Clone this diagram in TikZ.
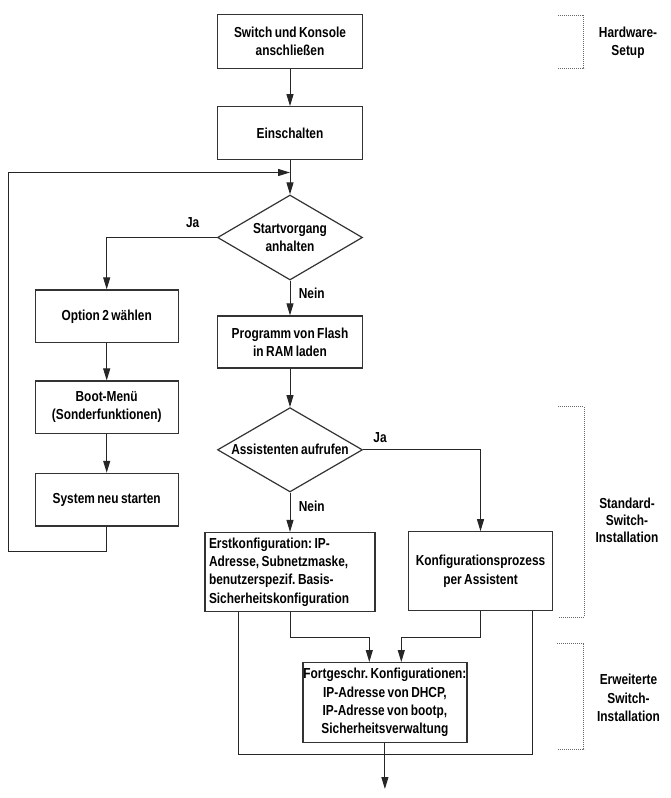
\documentclass[tikz,border=0pt]{standalone}
\usepackage{fontspec}
\setmainfont{Liberation Sans}[FakeStretch=0.82,WordSpace=0.75]
\usetikzlibrary{arrows.meta,shapes.geometric}
\newcommand{\txtfont}{\fontsize{14.5}{18.3}\selectfont\bfseries\frenchspacing}
\begin{document}
\begin{tikzpicture}[x=1pt,y=-1pt,
  box/.style={draw=black!80, line width=1.2pt, rectangle, inner sep=0pt, align=center, font=\txtfont},
  dia/.style={draw=black!80, line width=1.2pt, diamond, aspect=1.7, inner sep=0pt, minimum width=145pt, minimum height=85pt, align=center, font=\txtfont},
  flow/.style={draw=black!85, line width=1pt, -{Triangle[length=12pt,width=7pt]}},
  conn/.style={draw=black!85, line width=1pt},
  lbl/.style={font=\txtfont, inner sep=0pt, align=center},
  brk/.style={draw=black!60, line width=1pt, densely dotted},
]
\fill[white] (0,0) rectangle (671,798);
\useasboundingbox (0,0) rectangle (671,798);

\node[box, minimum width=145pt, minimum height=54pt] (b1) at (290,41.3) {Switch und Konsole\\anschließen};
\node[box, minimum width=145pt, minimum height=52.6pt] (b2) at (290,133) {Einschalten};
\node[dia] (d1) at (290,237.5) {Startvorgang\\anhalten};
\node[box, minimum width=143pt, minimum height=52.7pt] (b3) at (106.7,316.3) {Option 2 wählen};
\node[box, minimum width=145pt, minimum height=52pt] (b4) at (290,342) {Programm von Flash\\in RAM laden};
\node[dia, minimum height=84.3pt] (d2) at (290,449.8) {Assistenten aufrufen};
\node[box, minimum width=143pt, minimum height=52.3pt] (b5) at (106.7,407.2) {Boot-Menü\\(Sonderfunktionen)};
\node[box, minimum width=143pt, minimum height=52.7pt] (b6) at (106.7,499.7) {System neu starten};
\node[box, minimum width=170pt, minimum height=79pt, align=flush left, text width=162pt] (b7) at (290,572) {Erstkonfiguration: IP-\\Adresse, Subnetzmaske,\\benutzerspezif. Basis-\\Sicherheitskonfiguration};
\node[box, minimum width=144pt, minimum height=79pt] (b8) at (480.5,571.3) {Konfigurationsprozess\\per Assistent};
\node[box, minimum width=164pt, minimum height=80pt] (b9) at (384.9,702.6) {Fortgeschr. Konfigurationen:\\IP-Adresse von DHCP,\\IP-Adresse von bootp,\\Sicherheitsverwaltung};

% labels
\node[lbl] (ja1) at (192.7,223) {Ja};
\node[lbl] (nein1) at (311.7,293) {Nein};
\node[lbl] (ja2) at (380,437.7) {Ja};
\node[lbl] (nein2) at (311.7,506) {Nein};

% coordinates
\coordinate (loopL) at (8.3,551.7);
\coordinate (loopT) at (8.3,172.5);
\coordinate (join) at (290,172.5);
\coordinate (a1) at (369.3,637.3);
\coordinate (a2) at (401.3,637.3);
\coordinate (o1) at (238.3,754.5);
\coordinate (o2) at (532.7,754.5);
\coordinate (endp) at (384.9,789);

% connectors
\draw[flow] (b1) -- (b2);
\draw[flow] (b2) -- (d1);
\draw[flow] (b6.south) |- (loopL) -- (loopT) -- (join);
\draw[flow] (d1.west) -| (b3.north);
\draw[flow] (d1.south) -- (b4.north);
\draw[flow] (b3) -- (b5);
\draw[flow] (b5) -- (b6);
\draw[flow] (b4) -- (d2);
\draw[flow] (d2.east) -| (b8.north);
\draw[flow] (d2.south) -- (b7.north);
\draw[flow] (b7.south) |- (a1) -- (a1 |- b9.north);
\draw[flow] (b8.south) |- (a2) -- (a2 |- b9.north);
\draw[conn] (b7.south -| o1) -- (o1) -- (o2) -- (b8.south -| o2);
\draw[flow] (b9.south) -- (endp);

% brackets
\draw[brk] (558,15) -- (583.7,15) -- (583.7,68.3) -- (558,68.3);
\draw[brk] (558.3,406.7) -- (584,406.7) -- (584,617) -- (558.3,617);
\draw[brk] (557,643) -- (583.7,643) -- (583.7,749.3) -- (557,749.3);
\node[lbl] (hw) at (628,42.5) {Hardware-\\Setup};
\node[lbl, font=\fontsize{14.5}{17}\selectfont\bfseries] (std) at (627,520) {Standard-\\Switch-\\Installation};
\node[lbl] (erw) at (628.5,698) {Erweiterte\\Switch-\\Installation};
\end{tikzpicture}
\end{document}
